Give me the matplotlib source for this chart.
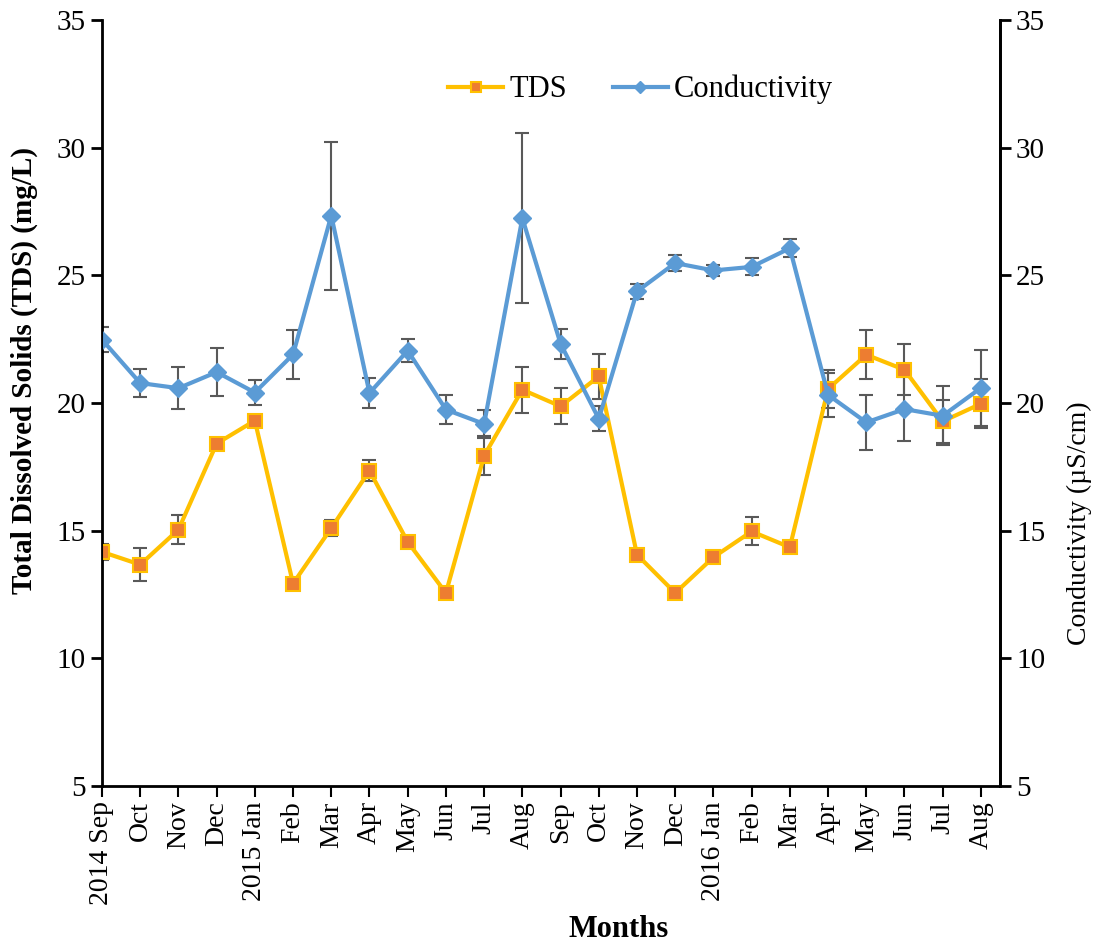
import matplotlib
matplotlib.use("Agg")
from matplotlib import pyplot as plt
import numpy as np

# month labels
months = ['2014 Sep', 'Oct', 'Nov', 'Dec', '2015 Jan', 'Feb', 'Mar', 'Apr', 'May', 'Jun',
          'Jul', 'Aug', 'Sep', 'Oct', 'Nov', 'Dec', '2016 Jan', 'Feb', 'Mar', 'Apr',
          'May', 'Jun', 'Jul', 'Aug']

# TDS (mg/L) and its error
tds = [14.17, 13.67, 15.04, 18.41, 19.31, 12.93, 15.10, 17.35, 14.56, 12.56,
       17.94, 20.52, 19.87, 21.04, 14.06, 12.56, 13.96, 14.97, 14.35, 20.55,
       21.89, 21.30, 19.28, 19.97]
tds_err = [0.3, 0.65, 0.56, 0.2, 0.1, 0.15, 0.3, 0.4, 0.1, 0.15,
           0.75, 0.9, 0.7, 0.87, 0.05, 0.1, 0.2, 0.55, 0.2, 0.75,
           0.95, 1.0, 0.85, 0.95]

# conductivity (uS/cm) and its error
cond = [22.48, 20.78, 20.58, 21.21, 20.41, 21.90, 27.34, 20.39, 22.05, 19.74,
        19.18, 27.24, 22.32, 19.38, 24.37, 25.48, 25.19, 25.33, 26.06, 20.32,
        19.24, 19.76, 19.50, 20.59]
cond_err = [0.5, 0.55, 0.82, 0.95, 0.5, 0.95, 2.9, 0.58, 0.45, 0.57,
            0.55, 3.33, 0.59, 0.49, 0.29, 0.33, 0.2, 0.33, 0.36, 0.85,
            1.07, 1.26, 1.15, 1.5]

plt.rcParams['font.family'] = ['Liberation Serif', 'DejaVu Serif']

fig = plt.figure(figsize=(11.05, 9.5), dpi=100)
ax = fig.add_axes([0.0923, 0.1726, 0.8127, 0.8064])
x = np.arange(len(months))

ax.errorbar(x, tds, yerr=tds_err, fmt='none', ecolor='#595959', elinewidth=1.5,
            capsize=5, capthick=1.5, zorder=2)
ax.errorbar(x, cond, yerr=cond_err, fmt='none', ecolor='#595959', elinewidth=1.5,
            capsize=5, capthick=1.5, zorder=2)
ax.plot(x, tds, color='#FFC000', lw=3, marker='s', ms=10, mfc='#ED7D31',
        mec='#FFC000', mew=1.5, label='TDS', zorder=3)
ax.plot(x, cond, color='#5B9BD5', lw=3, marker='D', ms=9, mfc='#5B9BD5',
        mec='#5B9BD5', label='Conductivity', zorder=4)

ax.set_xlim(0, 23.5)
ax.set_ylim(5, 35)
ax.set_yticks(range(5, 36, 5))
ax.set_xticks(x)
ax.set_xticklabels(months, rotation=90, fontsize=20)
ax.tick_params(axis='y', labelsize=21, width=2, length=8, direction='out')
ax.tick_params(axis='x', width=1.5, length=8, direction='out', pad=3)
for s in ['left', 'bottom', 'right']:
    ax.spines[s].set_linewidth(2)
ax.spines['top'].set_visible(False)

ax.set_xlabel('Months', fontsize=22, fontweight='bold')
ax.xaxis.set_label_coords(0.575, -0.168)
ax.set_ylabel('Total Dissolved Solids (TDS) (mg/L)', fontsize=21, fontweight='bold')
ax.yaxis.set_label_coords(-0.071, 0.542)

ax2 = ax.twinx()
ax2.set_ylim(5, 35)
ax2.set_yticks(range(5, 36, 5))
ax2.tick_params(axis='y', labelsize=21, width=2, length=8, direction='out')
ax2.spines['top'].set_visible(False)
ax2.spines['right'].set_linewidth(2)
ax2.set_ylabel('Conductivity (µS/cm)', fontsize=20)
ax2.yaxis.set_label_coords(1.074, 0.343)

ax.legend(loc='center', bbox_to_anchor=(0.6, 0.909), ncol=2, frameon=False,
          fontsize=22, handlelength=1.8, handletextpad=0.2, columnspacing=1.5,
          markerscale=0.7)

fig.savefig('out.png', dpi=100)
